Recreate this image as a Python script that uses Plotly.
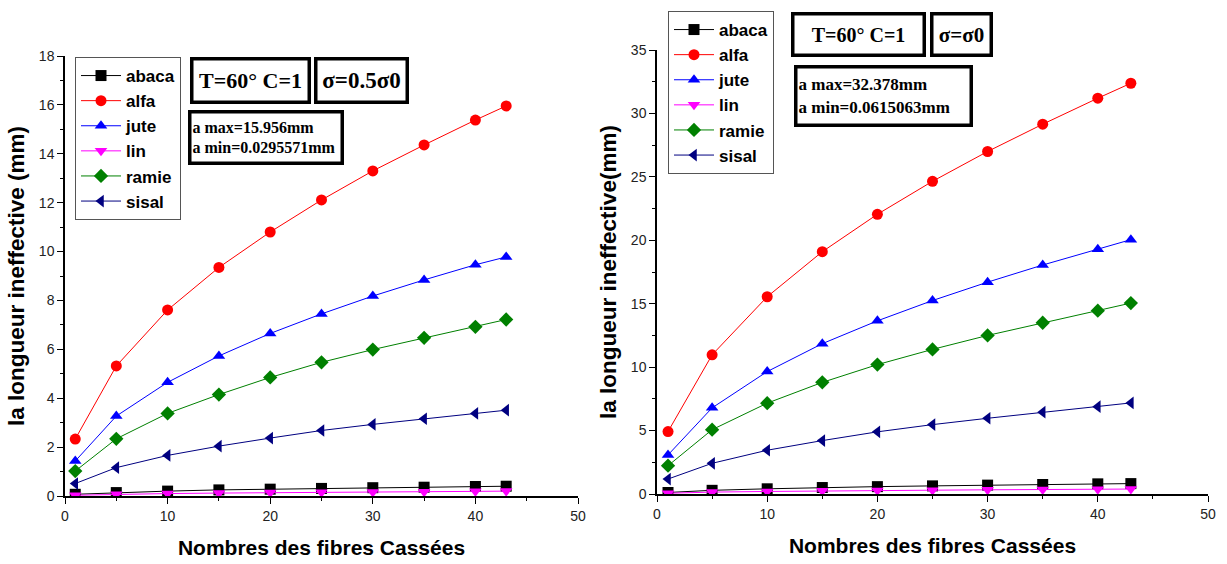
import plotly.graph_objects as go

x = [1, 5, 10, 15, 20, 25, 30, 35, 40, 43]
names = ["abaca", "alfa", "jute", "lin", "ramie", "sisal"]

# left: sigma = 0.5 sigma0
left_abaca = [0.07, 0.14, 0.20, 0.25, 0.28, 0.31, 0.34, 0.36, 0.39, 0.40]
left_alfa = [2.33, 5.32, 7.61, 9.35, 10.8, 12.11, 13.3, 14.36, 15.38, 15.956]
left_jute = [1.43, 3.27, 4.65, 5.73, 6.65, 7.45, 8.18, 8.84, 9.46, 9.78]
left_lin = [0.0296, 0.07, 0.10, 0.12, 0.14, 0.15, 0.16, 0.17, 0.19, 0.20]
left_ramie = [1.02, 2.34, 3.38, 4.15, 4.85, 5.47, 5.99, 6.47, 6.92, 7.22]
left_sisal = [0.51, 1.16, 1.66, 2.04, 2.37, 2.68, 2.93, 3.16, 3.38, 3.51]

# right: sigma = sigma0
right_abaca = [0.12, 0.29, 0.41, 0.51, 0.58, 0.64, 0.70, 0.75, 0.80, 0.82]
right_alfa = [4.92, 10.97, 15.55, 19.1, 22.05, 24.65, 27.0, 29.15, 31.2, 32.378]
right_jute = [3.08, 6.79, 9.65, 11.85, 13.65, 15.25, 16.7, 18.05, 19.3, 20.05]
right_lin = [0.0615, 0.15, 0.20, 0.25, 0.28, 0.30, 0.33, 0.35, 0.37, 0.39]
right_ramie = [2.23, 5.07, 7.16, 8.8, 10.2, 11.4, 12.5, 13.5, 14.45, 15.05]
right_sisal = [1.18, 2.42, 3.45, 4.21, 4.9, 5.47, 5.97, 6.45, 6.88, 7.18]

colors = ["#000000", "#ff0000", "#0000ff", "#ff00ff", "#008000", "#000080"]
symbols = ["square", "circle", "triangle-up", "triangle-down", "diamond", "triangle-left"]

left = [left_abaca, left_alfa, left_jute, left_lin, left_ramie, left_sisal]
right = [right_abaca, right_alfa, right_jute, right_lin, right_ramie, right_sisal]

fig = go.Figure()
for i, n in enumerate(names):
    fig.add_trace(go.Scatter(x=x, y=left[i], name=n, mode="lines+markers",
                             line=dict(color=colors[i], width=1),
                             marker=dict(symbol=symbols[i], size=11, color=colors[i]),
                             xaxis="x", yaxis="y", legend="legend"))
for i, n in enumerate(names):
    fig.add_trace(go.Scatter(x=x, y=right[i], name=n, mode="lines+markers",
                             line=dict(color=colors[i], width=1),
                             marker=dict(symbol=symbols[i], size=11, color=colors[i]),
                             xaxis="x2", yaxis="y2", legend="legend2"))

W, H = 1227, 564
def px(v):
    return v / W
def py(v):
    return 1 - v / H

tickfont = dict(family="Liberation Sans, Arial", size=14, color="#222")
xtitlefont = dict(family="Liberation Sans, Arial", size=21, color="#000", weight="bold")
ytitlefont = dict(family="Liberation Sans, Arial", size=22.5, color="#000", weight="bold")
axcommon = dict(showline=True, linecolor="black", linewidth=1.5, ticks="outside",
                ticklen=6, tickwidth=1.2, tickcolor="black", showgrid=False,
                zeroline=False, tickfont=tickfont, mirror=False, automargin=False)

def minor(d):
    return dict(dtick=d, ticks="outside", ticklen=3, tickcolor="black", tickwidth=1)

fig.update_layout(
    width=W, height=H, margin=dict(l=0, r=0, t=0, b=0, autoexpand=False),
    plot_bgcolor="white", paper_bgcolor="white",
    xaxis=dict(domain=[px(65), px(578)], range=[0, 50], dtick=10, anchor="y", minor=minor(5),
               title=dict(text="Nombres des fibres Cassées", font=xtitlefont, standoff=18),
               **axcommon),
    yaxis=dict(domain=[py(496), py(56)], range=[0, 18], dtick=2, anchor="x", minor=minor(1),
               title=dict(text="la longueur ineffective (mm)", font=ytitlefont, standoff=8),
               **axcommon),
    xaxis2=dict(domain=[px(657), px(1208)], range=[0, 50], dtick=10, anchor="y2", minor=minor(5),
                title=dict(text="Nombres des fibres Cassées", font=xtitlefont, standoff=18),
                **axcommon),
    yaxis2=dict(domain=[py(494), py(50)], range=[0, 35], dtick=5, anchor="x2", minor=minor(2.5),
                title=dict(text="la longueur ineffective(mm)", font=ytitlefont, standoff=8),
                **axcommon),
    legend=dict(x=px(75), y=py(57), xanchor="left", yanchor="top",
                bordercolor="#555", borderwidth=1, bgcolor="white",
                font=dict(family="Liberation Sans, Arial", size=17, color="black", weight="bold"),
                tracegroupgap=0, itemwidth=40),
    legend2=dict(x=px(668), y=py(11), xanchor="left", yanchor="top",
                 bordercolor="#555", borderwidth=1, bgcolor="white",
                 font=dict(family="Liberation Sans, Arial", size=17, color="black", weight="bold"),
                 tracegroupgap=0, itemwidth=40),
    showlegend=True,
)

serif = "Liberation Serif, Times New Roman"
def box(x0, y0, x1, y1, text, size, align="center"):
    fig.add_annotation(xref="paper", yref="paper", x=px((x0 + x1) / 2), y=py((y0 + y1) / 2),
                       xanchor="center", yanchor="middle", text=text, showarrow=False,
                       width=x1 - x0 - 8, height=y1 - y0 - 8, align=align,
                       font=dict(family=serif, size=size, color="black", weight="bold"),
                       bordercolor="black", borderwidth=3.5, borderpad=1, bgcolor="white")

box(190, 58, 310, 104, "T=60° C=1", 22)
box(314, 58, 408, 104, "σ=0.5σ0", 23)
box(188, 110, 343, 164, "a max=15.956mm<br>a min=0.0295571mm", 16, align="left")
box(792, 12, 926, 56, "T=60° C=1", 20)
box(931, 12, 993, 56, "σ=σ0", 21)
box(794, 65, 972, 126, "a max=32.378mm<br>a min=0.0615063mm", 17, align="left")

fig.write_html("out.html")
